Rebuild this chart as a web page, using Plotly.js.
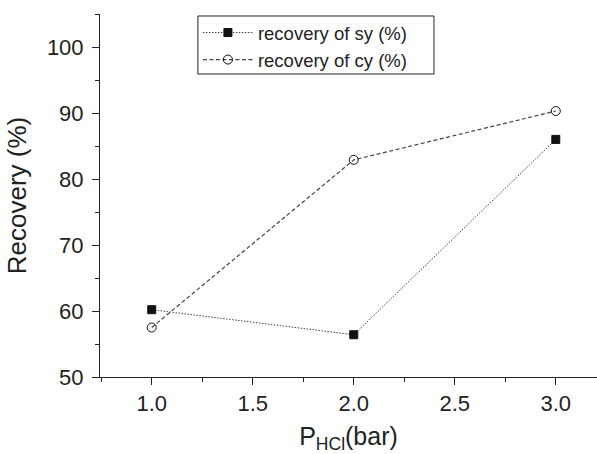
<!DOCTYPE html>
<html>
<head>
<meta charset="utf-8">
<script src="https://cdn.plot.ly/plotly-3.0.1.min.js"></script>
<style>html,body{margin:0;padding:0;background:#fff;}#chart{width:597px;height:454px;}</style>
</head>
<body>
<div id="chart"></div>
<script>
const pressure = [1.0, 2.0, 3.0];
const recoverySy = [60.2, 56.4, 86.0];
const recoveryCy = [57.5, 82.9, 90.3];
const seriesNames = ["recovery of sy (%)", "recovery of cy (%)"];

const fontFam = "Arial, 'Liberation Sans', sans-serif";
const traces = [
  {
    x: pressure, y: recoverySy, name: seriesNames[0], type: 'scatter', mode: 'lines+markers',
    line: {color: '#444', width: 1, dash: '1.5px,1.5px'},
    marker: {symbol: 'square', size: 8, color: '#111', line: {color: '#111', width: 1}}
  },
  {
    x: pressure, y: recoveryCy, name: seriesNames[1], type: 'scatter', mode: 'lines+markers',
    line: {color: '#444', width: 1.2, dash: '4px,2.5px'},
    marker: {symbol: 'circle-open', size: 9, color: '#111', line: {color: '#111', width: 1}}
  }
];

const layout = {
  width: 597, height: 454,
  margin: {l: 100, r: 0, t: 14, b: 77},
  paper_bgcolor: '#fff', plot_bgcolor: '#fff',
  font: {family: fontFam, color: '#222'},
  showlegend: true,
  legend: {
    x: 0.197, y: 1.0, xanchor: 'left', yanchor: 'top',
    borderwidth: 0, bgcolor: 'rgba(0,0,0,0)',
    font: {family: fontFam, size: 18.5, color: '#222'},
    itemwidth: 50,
    tracegroupgap: 0
  },
  shapes: [{
    type: 'rect', xref: 'paper', yref: 'paper', layer: 'below',
    x0: 0.197, x1: 0.672, y0: 0.8347, y1: 0.9945,
    line: {color: '#222', width: 1}, fillcolor: '#fff'
  }],
  xaxis: {
    range: [0.744, 3.204], showgrid: false, zeroline: false,
    showline: true, linecolor: '#222', linewidth: 1,
    ticks: 'outside', ticklen: 7, tickwidth: 1, tickcolor: '#222',
    tick0: 1.0, dtick: 0.5, tickformat: '.1f',
    minor: {ticks: 'outside', ticklen: 4, tickwidth: 1, tickcolor: '#222', dtick: 0.25, tick0: 0.75},
    tickfont: {family: fontFam, size: 22, color: '#222'},
    title: {text: 'P<sub>HCl</sub>(bar)', font: {family: fontFam, size: 25, color: '#222'}, standoff: 14}
  },
  yaxis: {
    range: [50, 105], showgrid: false, zeroline: false,
    showline: true, linecolor: '#222', linewidth: 1,
    ticks: 'outside', ticklen: 7, tickwidth: 1, tickcolor: '#222',
    ticklabelstandoff: 4,
    tick0: 50, dtick: 10,
    minor: {ticks: 'outside', ticklen: 4, tickwidth: 1, tickcolor: '#222', dtick: 5, tick0: 55},
    tickfont: {family: fontFam, size: 22, color: '#222'},
    title: {text: 'Recovery (%)', font: {family: fontFam, size: 26, color: '#222'}, standoff: 12}
  }
};

Plotly.newPlot('chart', traces, layout, {displayModeBar: false, staticPlot: true});
</script>
</body>
</html>
